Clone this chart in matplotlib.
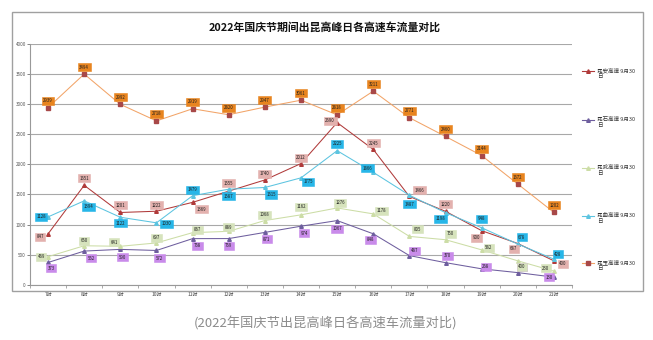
import matplotlib
matplotlib.use("Agg")
import matplotlib.pyplot as plt
from matplotlib.patches import Rectangle
from matplotlib.lines import Line2D

plt.rcParams['font.family'] = ['Noto Sans CJK SC', 'DejaVu Sans']

hours = ['7时', '8时', '9时', '10时', '11时', '12时', '13时', '14时', '15时',
         '16时', '17时', '18时', '19时', '20时', '21时']
kunan = [847, 1651, 1201, 1222, 1369, 1555, 1740, 2012, 2690, 2245, 1466, 1220, 900, 687, 400]
kunshi = [373, 562, 590, 572, 768, 769, 871, 974, 1067, 848, 487, 370, 268, 205, 130]
kunwu = [469, 650, 641, 697, 867, 889, 1068, 1162, 1276, 1178, 805, 750, 582, 400, 230]
kunqu = [1128, 1394, 1122, 1030, 1479, 1587, 1615, 1775, 2225, 1866, 1487, 1198, 948, 678, 428]
kunyu = [2939, 3494, 2992, 2718, 2919, 2820, 2947, 3061, 2818, 3211, 2771, 2460, 2144, 1672, 1202]
series_names = ['昆安高速 9月30\n日', '昆石高速 9月30\n日', '昆武高速 9月30\n日',
                '昆曲高速 9月30\n日', '昆玉高速 9月30\n日']

# label offsets in pixels (dx, dy)
off_an = [(-8, -3), (0, 7), (0, 7), (0, 6), (9, -7), (0, 8), (0, 6), (0, 6), (-7, 2),
          (0, 6), (10, 6), (0, 7), (-5, -7), (-4, -5), (9, -3)]
off_shi = [(3, -6), (7, -7), (2, -8), (3, -8), (5, -7), (0, -7), (2, -7), (3, -7), (0, -8),
           (-3, -6), (5, 5), (2, 7), (4, 2), (4, 6), (-5, 0)]
off_wu = [(-7, 0), (0, 5), (-6, 4), (0, 5), (5, 3), (0, 4), (0, 6), (0, 8), (3, 5),
          (8, 3), (8, 7), (5, 6), (7, 2), (4, -6), (-8, 3)]
off_qu = [(-7, 0), (4, -6), (0, -6), (10, -1), (0, 6), (0, -7), (6, -7), (7, -4), (0, 7),
          (-6, 4), (0, -9), (-5, -6), (0, 9), (4, 7), (4, 5)]
off_yu = [(0, 7)] * 15

W, H = 653, 340
fig = plt.figure(figsize=(6.53, 3.40), dpi=100)
fig.patch.set_facecolor('white')
ax = fig.add_axes([30/W, 1-285/H, 542/W, (285-43.5)/H])

fig.add_artist(Rectangle((12/W, 1-291/H), 631/W, 279/H, transform=fig.transFigure,
                         fill=False, edgecolor='#A0A0A0', lw=1.0))

x = list(range(len(hours)))
specs = [
    (kunan, '#B03A3A', '#B03A3A', '^', 2.6, '#E3B1AE', off_an),
    (kunshi, '#6E5E9E', '#6E5E9E', '^', 2.6, '#C98BEA', off_shi),
    (kunwu, '#CCDDA6', '#CCDDA6', '^', 2.6, '#D6E3BC', off_wu),
    (kunqu, '#5CC4E0', '#5CC4E0', '^', 2.6, '#27B6E8', off_qu),
    (kunyu, '#F2A468', '#A84848', 's', 3.4, '#E8841F', off_yu),
]
for (vals, lc, mc, mk, ms, bc, offs), name in zip(specs, series_names):
    ax.plot(x, vals, color=lc, lw=0.75, marker=mk, ms=ms, mfc=mc, mec=mc, zorder=3)
for (vals, lc, mc, mk, ms, bc, offs) in specs:
    for xi, v, (dx, dy) in zip(x, vals, offs):
        ax.annotate(str(v), (xi, v), xytext=(dx, dy), textcoords='offset pixels',
                    ha='center', va='center', fontsize=3.1, color='#202020', zorder=5,
                    bbox=dict(boxstyle='square,pad=0.35', fc=bc, ec=bc, lw=0.4))

ax.set_xlim(-0.5, len(hours) - 0.5)
ax.set_ylim(0, 4000)
ax.set_yticks(range(0, 4001, 500))
ax.tick_params(axis='y', labelsize=3.3, colors='#555555', length=2, width=0.5, pad=1)
ax.set_xticks(x)
ax.set_xticklabels(hours)
ax.set_xticks([i - 0.5 for i in range(len(hours) + 1)], minor=True)
ax.tick_params(axis='x', which='major', length=0, labelsize=3.5, colors='#444444', pad=5)
ax.tick_params(axis='x', which='minor', length=2, width=0.5, color='#888888')
ax.grid(axis='y', color='#A8A8A8', lw=0.8)
ax.set_axisbelow(True)
for s in ['top', 'right']:
    ax.spines[s].set_visible(False)
for s in ['left', 'bottom']:
    ax.spines[s].set_color('#999999')
    ax.spines[s].set_linewidth(0.8)

# legend, drawn manually
leg_y = [71, 120, 168, 216, 263]
for (vals, lc, mc, mk, ms, bc, offs), name, ly in zip(specs, series_names, leg_y):
    yf = 1 - ly/H
    fig.add_artist(Line2D([582/W, 594/W], [yf, yf], transform=fig.transFigure,
                          color=lc, lw=0.8))
    fig.add_artist(Line2D([588/W], [yf], transform=fig.transFigure, color=mc,
                          marker=mk, ms=ms, mfc=mc, mec=mc, lw=0))
    fig.text(597/W, yf + 3.5/H, name, ha='left', va='top', fontsize=4.0,
             color='#333333', linespacing=1.3)

fig.text(325/W, 1-27/H, '2022年国庆节期间出昆高峰日各高速车流量对比',
         ha='center', va='center', fontsize=7.8, fontweight='bold', color='#111111')
fig.text(326/W, 1-324/H, '(2022年国庆节出昆高峰日各高速车流量对比)',
         ha='center', va='center', fontsize=9.5, color='#8C8C8C')

fig.savefig('out.png', dpi=100)
